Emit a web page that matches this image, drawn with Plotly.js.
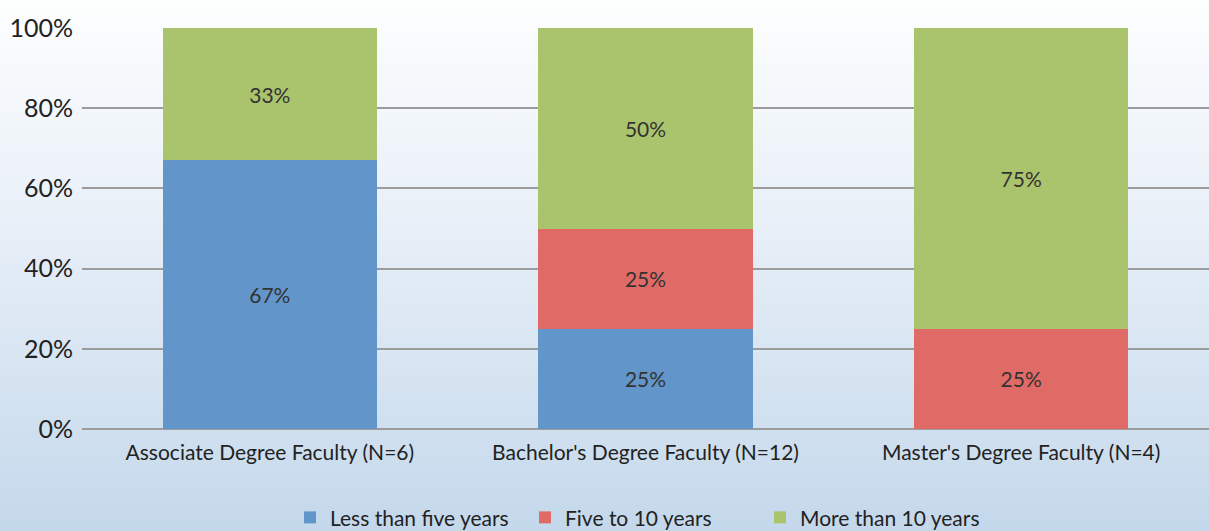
<!DOCTYPE html>
<html>
<head>
<meta charset="utf-8">
<script src="https://cdn.plot.ly/plotly-3.0.1.min.js"></script>
<style>
  html, body { margin: 0; padding: 0; }
  #chart {
    width: 1209px; height: 531px;
    background: linear-gradient(to bottom, #fdfefe 0%, #e9f0f8 40%, #c4d8eb 100%);
  }
</style>
</head>
<body>
<div id="chart"></div>
<script>
const categories = ['Associate Degree Faculty (N=6)', "Bachelor's Degree Faculty (N=12)", "Master's Degree Faculty (N=4)"];
const lessThanFive = [67, 25, 0];
const fiveToTen = [0, 25, 25];
const moreThanTen = [33, 50, 75];
const yTicks = [0, 20, 40, 60, 80, 100];
const yTickLabels = ['0%', '20%', '40%', '60%', '80%', '100%'];

const fuente = 'Lato, "Open Sans", sans-serif';

function serie(nombre, valores, color) {
    return {
        type: 'bar',
        name: nombre,
        x: categories,
        y: valores,
        width: 0.571,
        marker: { color: color, line: { width: 0 } },
        text: valores.map(v => v > 0 ? v + '%' : ''),
        textposition: 'inside',
        insidetextanchor: 'middle',
        textfont: { family: fuente, size: 21, color: '#333333' },
        hoverinfo: 'none'
    };
}

const trazas = [
    serie('Less than five years', lessThanFive, '#6295c9'),
    serie('Five to 10 years', fiveToTen, '#e06a65'),
    serie('More than 10 years', moreThanTen, '#aac36d')
];

const layout = {
    width: 1209,
    height: 531,
    barmode: 'stack',
    paper_bgcolor: 'rgba(0,0,0,0)',
    plot_bgcolor: 'rgba(0,0,0,0)',
    margin: { l: 82, r: 0, t: 28, b: 102, autoexpand: false },
    font: { family: fuente, color: '#222222' },
    xaxis: {
        type: 'category',
        range: [-0.5, 2.5],
        showgrid: false,
        showline: false,
        ticks: '',
        ticklabelstandoff: 9,
        tickfont: { size: 21, color: '#222222' }
    },
    yaxis: {
        range: [0, 100],
        tickvals: yTicks,
        ticktext: yTickLabels,
        showgrid: true,
        gridcolor: '#9c9c9c',
        gridwidth: 2,
        zeroline: true,
        zerolinecolor: '#9c9c9c',
        zerolinewidth: 2,
        ticks: '',
        ticklabelstandoff: 8,
        tickfont: { size: 25, color: '#222222' }
    },
    legend: {
        orientation: 'h',
        x: 290 / 1209,
        xref: 'container',
        xanchor: 'left',
        y: 0.025,
        yref: 'container',
        yanchor: 'middle',
        traceorder: 'normal',
        entrywidth: 190,
        entrywidthmode: 'pixels',
        font: { size: 21, color: '#222222' },
        bgcolor: 'rgba(0,0,0,0)'
    },
    showlegend: true
};

Plotly.newPlot('chart', trazas, layout, { displayModeBar: false, staticPlot: true });
</script>
</body>
</html>
